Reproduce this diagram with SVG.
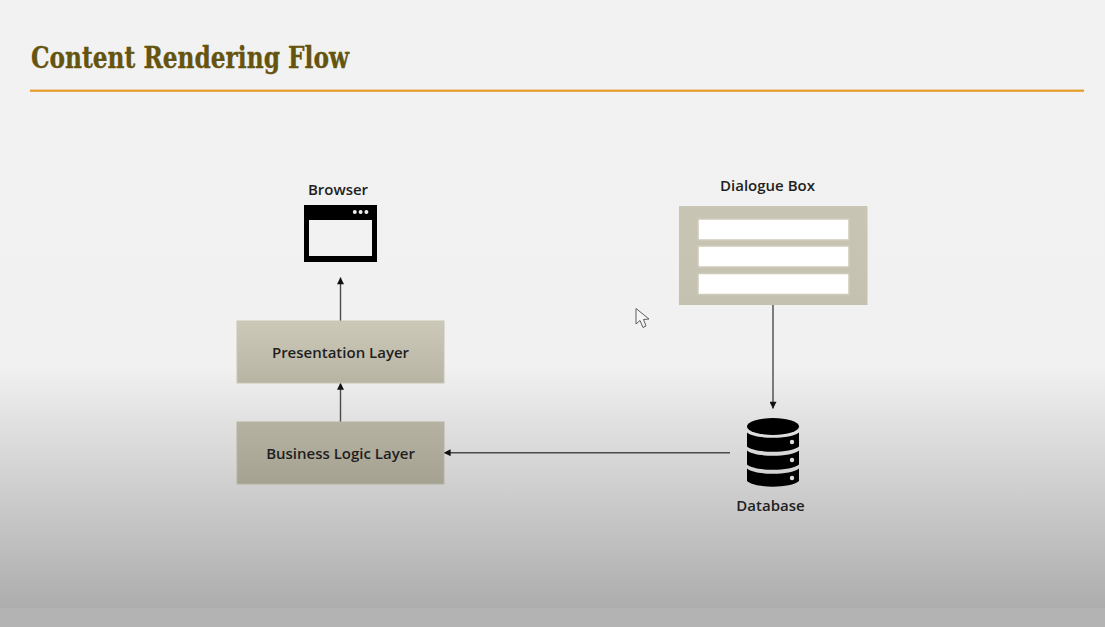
<svg xmlns="http://www.w3.org/2000/svg" width="1105" height="627" viewBox="0 0 1105 627">
<style>
.lbl{font-family:"Open Sans","Liberation Sans",sans-serif;font-weight:600;font-size:15px;fill:#1f1f1f;text-anchor:middle}
.conn{stroke:#4a4a46;stroke-width:1.4;fill:none}
.field{fill:#fff;stroke:#cfcbba;stroke-width:1.5}
</style>
<defs>
<linearGradient id="bg" x1="0" y1="0" x2="0" y2="1"><stop offset="0" stop-color="#f2f2f2"/><stop offset="0.6" stop-color="#f1f1f1"/><stop offset="1" stop-color="#adadad"/></linearGradient>
<linearGradient id="pres" x1="0" y1="0" x2="0" y2="1"><stop offset="0" stop-color="#cdc9b8"/><stop offset="1" stop-color="#b8b4a3"/></linearGradient>
<linearGradient id="biz" x1="0" y1="0" x2="0" y2="1"><stop offset="0" stop-color="#b6b2a1"/><stop offset="1" stop-color="#a6a291"/></linearGradient>
<linearGradient id="dlg" x1="0" y1="0" x2="0" y2="1"><stop offset="0" stop-color="#c9c5b5"/><stop offset="1" stop-color="#c5c1b0"/></linearGradient>
<marker id="arrow" viewBox="0 0 10 10" refX="9.500" refY="5" markerWidth="8" markerHeight="7" markerUnits="userSpaceOnUse" orient="auto"><path d="M0 0L10 5L0 10Z" fill="#111"/></marker>
</defs>
<rect id="background" width="1105" height="608" fill="url(#bg)"/>
<rect y="608" width="1105" height="19" fill="#b3b3b3"/>
<g id="header">
<text x="31" y="68" font-family="'DejaVu Serif','Liberation Serif',serif" font-weight="700" font-size="29" font-stretch="condensed" fill="#65540f" stroke="#65540f" stroke-width="0.3" textLength="318" lengthAdjust="spacingAndGlyphs">Content Rendering Flow</text>
<rect x="30" y="89.600" width="1054" height="2.200" fill="#e69c28"/>
</g>
<g id="connectors">
<path class="conn" d="M340.500 321V277.500" marker-end="url(#arrow)"/>
<path class="conn" d="M340.500 422V383" marker-end="url(#arrow)"/>
<path class="conn" d="M773 304V408.500" marker-end="url(#arrow)"/>
<path class="conn" d="M730 452.700H444" marker-end="url(#arrow)"/>
</g>
<g id="browser">
<text class="lbl" x="338" y="195">Browser</text>
<rect x="304" y="205" width="73" height="57" fill="#000"/>
<rect x="309" y="220" width="63" height="36" fill="#f2f2f2"/>
<circle cx="354.800" cy="212" r="2" fill="#eee"/><circle cx="360.600" cy="212" r="2" fill="#eee"/><circle cx="366.400" cy="212" r="2" fill="#eee"/>
</g>
<g id="presentation-layer">
<rect x="237" y="321" width="207" height="62" fill="url(#pres)" stroke="#c9c5b2"/>
<text class="lbl" x="340.500" y="358">Presentation Layer</text>
</g>
<g id="business-logic-layer">
<rect x="237" y="422" width="207" height="62" fill="url(#biz)" stroke="#b7b3a0"/>
<text class="lbl" x="340.500" y="459">Business Logic Layer</text>
</g>
<g id="dialogue-box">
<text class="lbl" x="767.500" y="191">Dialogue Box</text>
<rect x="679" y="206" width="188.500" height="99" fill="url(#dlg)"/>
<rect class="field" x="698" y="219" width="151" height="21"/>
<rect class="field" x="698" y="246" width="151" height="21"/>
<rect class="field" x="698" y="273.500" width="151" height="21"/>
</g>
<g id="database">
<ellipse cx="773" cy="426.500" rx="26" ry="8.500" fill="#000"/>
<path d="M747 432.500C755 439.500 791 439.500 799 432.500V446.500C791 453.500 755 453.500 747 446.500Z" fill="#000"/>
<path d="M747 450.500C755 457.500 791 457.500 799 450.500V464.500C791 471.500 755 471.500 747 464.500Z" fill="#000"/>
<path d="M747 468.500C755 475.500 791 475.500 799 468.500V481C791 488.500 755 488.500 747 481Z" fill="#000"/>
<circle cx="792" cy="442" r="2.200" fill="#ddd"/><circle cx="792" cy="460" r="2.200" fill="#ddd"/><circle cx="792" cy="478" r="2.200" fill="#ddd"/>
<text class="lbl" x="770.500" y="511">Database</text>
</g>
<path id="cursor" d="M636 308.500V324L640 320.500L643 327.500L646 326L643.500 319.500L649 319Z" fill="#f6f6f6" stroke="#5d5d5d" stroke-width="1"/>
</svg>
